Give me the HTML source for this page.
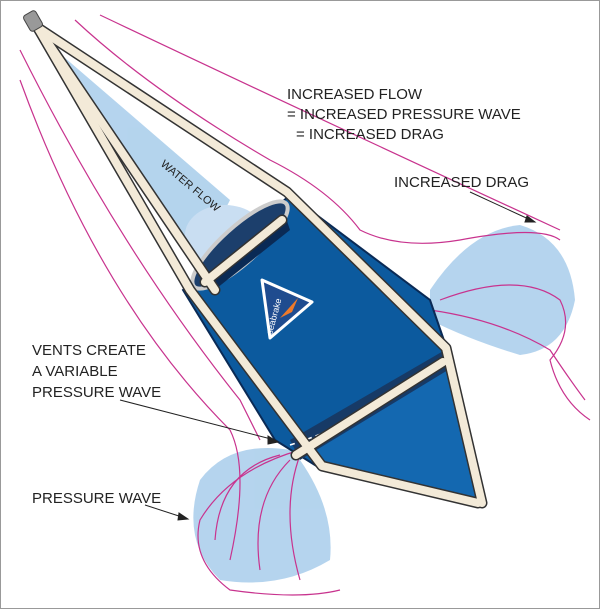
<!DOCTYPE html>
<html><head><style>
html,body{margin:0;padding:0;background:#fff;}
svg{display:block}
text{font-family:"Liberation Sans",sans-serif;fill:#222;}
</style></head><body>
<svg width="600" height="609" viewBox="0 0 600 609" xmlns="http://www.w3.org/2000/svg">
<rect x="0.5" y="0.5" width="599" height="608" fill="#fff" stroke="#999"/>
<!-- water blobs -->
<g fill="#9cc6e8" opacity="0.75">
<path d="M50,45 L230,200 L200,260 L180,240 Q150,210 120,150 Z"/>
<ellipse cx="225" cy="235" rx="40" ry="30" fill="#b8d4ee"/>
<path d="M430,290 Q470,230 520,225 Q570,240 575,300 Q565,350 520,355 Q470,340 430,320 Z"/>
<path d="M290,450 Q230,440 200,480 Q180,540 220,580 Q280,590 330,560 Q335,510 300,460 Z"/>
<ellipse cx="385" cy="420" rx="40" ry="30" fill="#8fb5dc"/>
</g>
<!-- magenta flow lines -->
<g fill="none" stroke="#c8338e" stroke-width="1.2">
<path d="M75,20 Q150,90 270,160 Q330,190 360,230 Q400,250 460,240 Q540,225 560,240"/>
<path d="M100,15 Q300,110 560,230"/>
<path d="M20,50 Q120,250 240,400 Q250,420 260,440"/>
<path d="M20,80 Q100,300 230,430 Q250,470 230,560"/>
<path d="M440,300 Q520,270 560,300 Q575,330 550,360 Q560,400 590,420"/>
<path d="M430,310 Q500,320 550,350 Q570,380 585,400"/>
<path d="M300,450 Q230,470 200,520 Q190,560 230,590 Q300,600 340,590"/>
<path d="M290,460 Q250,500 260,570"/>
<path d="M300,455 Q280,510 300,580"/>
<path d="M280,455 Q220,470 215,540"/>
</g>
<!-- drogue body -->
<path d="M183,290 L290,195 L430,300 L448,352 L482,500 L470,503 L318,467 L275,440 Z" fill="#0c5a9e" stroke="#0a2a55" stroke-width="2"/>
<path d="M300,450 L445,355 L480,500 L320,465 Z" fill="#1468b0"/>
<path d="M290,440 L445,350 L448,370 L300,460 Z" fill="#173a66"/>
<ellipse cx="240" cy="245" rx="62" ry="18" transform="rotate(-42 240 245)" fill="#1c3f6c" stroke="#ccc" stroke-width="4"/>
<path d="M205,275 L285,215 L290,230 L212,292 Z" fill="#0a2a55"/>
<path d="M290,445 Q370,420 440,360" fill="none" stroke="#fff" stroke-width="1.5" stroke-dasharray="5,4"/>
<!-- logo -->
<path d="M262,280 L270,338 L312,302 Z" fill="#1f4c8f" stroke="#fff" stroke-width="3" stroke-linejoin="round"/>
<path d="M280,318 L298,298 L292,312 Z" fill="#f07a2a"/>
<text x="0" y="0" font-size="9" fill="#fff" style="fill:#fff" transform="translate(272,335) rotate(-75)">seabrake</text>
<!-- straps -->
<g fill="none" stroke-linejoin="round" stroke-linecap="round">
<g stroke="#333" stroke-width="11">
<path d="M38,28 L287,192 L446,348 L482,503"/>
<path d="M38,28 L190,290 L322,466 L478,503"/>
<path d="M38,28 L215,290"/>
<path d="M205,282 L282,220"/>
<path d="M296,455 L443,362"/>
</g>
<g stroke="#f3ead8" stroke-width="8">
<path d="M38,28 L287,192 L446,348 L482,503"/>
<path d="M38,28 L190,290 L322,466 L478,503"/>
<path d="M38,28 L215,290"/>
<path d="M205,282 L282,220"/>
<path d="M296,455 L443,362"/>
</g>
</g>
<!-- shackle -->
<rect x="26" y="12" width="14" height="18" rx="3" fill="#999" stroke="#444" transform="rotate(-30 33 21)"/>
<!-- labels -->
<g font-size="15">
<text x="287" y="99">INCREASED FLOW</text>
<text x="287" y="119">= INCREASED PRESSURE WAVE</text>
<text x="296" y="139">= INCREASED DRAG</text>
<text x="394" y="187">INCREASED DRAG</text>
<text x="32" y="355">VENTS CREATE</text>
<text x="32" y="376">A VARIABLE</text>
<text x="32" y="397">PRESSURE WAVE</text>
<text x="32" y="503">PRESSURE WAVE</text>
</g>
<text font-size="11" transform="translate(160,165) rotate(40)">WATER FLOW</text>
<g stroke="#222" stroke-width="1" fill="#222">
<path d="M470,192 L535,222" fill="none"/><path d="M535,222 L527,216 L525,222 Z"/>
<path d="M120,400 L275,440" fill="none"/><path d="M278,442 L268,436 L268,444 Z"/>
<path d="M145,505 L185,518" fill="none"/><path d="M188,519 L179,513 L178,520 Z"/>
</g>
</svg>
</body></html>
